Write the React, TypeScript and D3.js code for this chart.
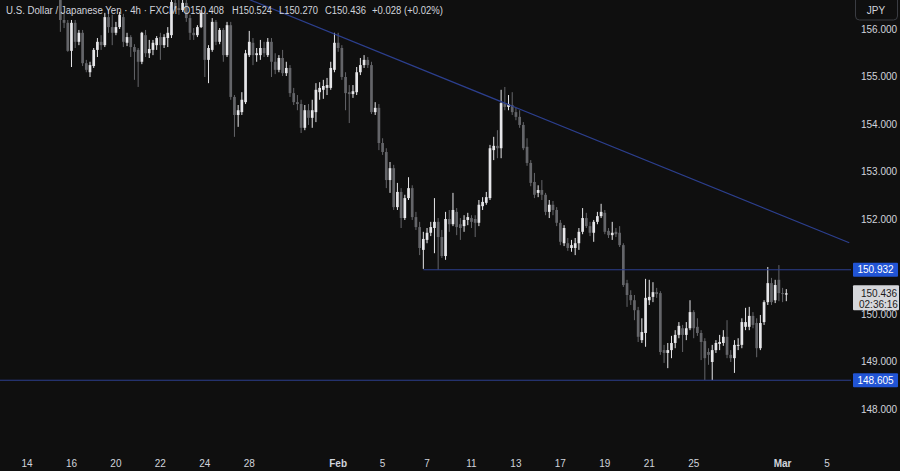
import React from 'react';
import * as d3 from 'd3';

// ---- Data (USD/JPY, FXCM, 4h) ----
const originSession = '2025-01-14';
const firstSession = '2025-01-15';
const firstSlot = 3;
const barsPerDay = 6;

const opens = [
  156.61, 156.19, 156.13,
  155.54, 156.13, 155.73, 155.92, 155.28, 155.09,
  155.22, 155.56, 155.73, 155.66, 156.25, 156.04,
  155.92, 156.04, 156.25, 155.71, 155.83, 155.62,
  155.56, 155.31, 155.87, 155.49, 155.56, 155.66,
  155.83, 155.66, 155.81, 155.87, 156.55, 156.44,
  156.40, 156.55, 156.23, 155.92, 155.87, 156.04,
  156.34, 155.35, 155.56, 156.15, 155.73, 155.98,
  155.45, 156.08, 154.57, 154.19, 154.25, 154.46,
  155.45, 155.71, 155.45, 155.45, 155.60, 155.45,
  155.73, 155.31, 155.14, 155.39, 155.07, 155.18,
  154.65, 154.46, 154.42, 153.92, 154.29, 154.13,
  154.25, 154.67, 154.72, 154.76, 154.76, 155.14,
  155.71, 155.60, 154.99, 154.67, 154.63, 154.67,
  155.09, 155.24, 155.35, 155.24, 154.25, 154.34,
  153.60, 153.41, 152.82, 153.07, 152.25, 152.57,
  152.02, 152.44, 152.65, 152.04, 151.83, 151.35,
  151.56, 151.71, 151.81, 151.94, 151.62, 151.22,
  152.00, 151.89, 152.15, 151.89, 151.85, 151.98,
  152.02, 152.00, 151.92, 152.27, 152.34, 152.44,
  153.45, 153.54, 153.49, 154.44, 154.36, 154.40,
  154.25, 154.15, 153.98, 153.52, 153.18, 152.78,
  152.55, 152.61, 152.51, 152.15, 152.30, 152.19,
  151.92, 151.49, 151.49, 151.39, 151.39, 151.49,
  151.73, 152.02, 151.85, 151.71, 151.94, 152.06,
  152.13, 151.75, 151.66, 151.73, 151.71, 151.45,
  150.65, 150.40, 150.29, 150.08, 149.45, 149.60,
  150.29, 150.36, 150.46, 150.44, 149.24, 149.18,
  149.24, 149.39, 149.56, 149.70, 149.56, 149.70,
  150.04, 149.73, 149.60, 149.43, 149.20, 148.99,
  149.24, 149.37, 149.39, 149.52, 149.14, 149.07,
  149.33, 149.35, 149.73, 149.73, 149.96, 149.81,
  149.28, 149.83, 150.25, 150.65, 150.29, 150.72,
  150.44, 150.408,
];
const highs = [
  156.72, 156.36, 156.19,
  156.19, 156.19, 155.98, 155.98, 155.35, 155.31,
  155.60, 155.81, 155.87, 156.34, 156.40, 156.30,
  156.15, 156.36, 156.32, 155.92, 155.87, 155.68,
  155.60, 155.94, 155.98, 155.77, 155.77, 155.85,
  155.92, 155.89, 156.04, 156.67, 156.72, 156.61,
  156.69, 156.61, 156.30, 156.02, 156.08, 156.40,
  156.38, 155.66, 156.23, 156.19, 156.02, 156.02,
  156.15, 156.15, 154.61, 154.40, 154.67, 155.56,
  155.96, 155.81, 155.60, 155.77, 155.73, 155.81,
  155.81, 155.49, 155.45, 155.56, 155.31, 155.24,
  154.76, 154.61, 154.51, 154.40, 154.42, 154.51,
  154.86, 154.88, 154.93, 154.97, 155.31, 155.92,
  155.92, 155.66, 155.09, 154.82, 154.82, 155.20,
  155.39, 155.45, 155.41, 155.31, 154.46, 154.42,
  153.70, 153.49, 153.20, 153.14, 152.76, 152.65,
  152.51, 152.88, 152.71, 152.15, 151.94, 151.73,
  151.81, 151.94, 152.44, 152.02, 151.77, 152.15,
  152.19, 152.55, 152.23, 152.02, 152.08, 152.13,
  152.08, 152.08, 152.40, 152.46, 152.57, 153.56,
  153.73, 153.87, 154.72, 154.78, 154.61, 154.67,
  154.34, 154.29, 154.04, 153.70, 153.24, 152.97,
  152.71, 152.82, 152.55, 152.40, 152.38, 152.25,
  151.98, 151.87, 151.60, 151.56, 151.60, 151.81,
  152.23, 152.13, 151.94, 151.98, 152.15, 152.32,
  152.19, 151.81, 151.94, 151.81, 151.85, 151.49,
  150.72, 150.50, 150.40, 150.15, 149.91, 150.74,
  150.72, 150.67, 150.55, 150.48, 149.35, 149.39,
  149.54, 149.66, 149.83, 149.77, 149.83, 150.29,
  150.08, 149.91, 149.66, 149.49, 149.28, 149.35,
  149.45, 149.56, 149.66, 149.87, 149.24, 149.45,
  149.49, 149.91, 150.13, 150.15, 150.04, 149.91,
  149.98, 150.29, 150.99, 150.76, 150.72, 151.03,
  150.55, 150.524,
];
const lows = [
  155.94, 156.02, 155.52,
  155.20, 155.60, 155.66, 155.22, 155.09, 154.99,
  155.18, 155.41, 155.56, 155.62, 155.92, 155.66,
  155.87, 156.00, 155.62, 155.64, 155.41, 154.93,
  154.78, 155.26, 155.41, 155.39, 155.45, 155.56,
  155.35, 155.60, 155.62, 155.81, 156.36, 156.30,
  156.36, 156.15, 155.77, 155.77, 155.83, 156.02,
  154.99, 154.86, 155.52, 155.66, 155.68, 155.31,
  155.41, 154.51, 153.73, 153.94, 154.19, 154.42,
  155.41, 155.24, 155.31, 155.35, 155.41, 155.41,
  154.99, 155.05, 155.09, 155.01, 155.01, 154.57,
  154.40, 154.29, 153.81, 153.87, 153.98, 153.92,
  154.04, 154.51, 154.53, 154.61, 154.72, 155.09,
  155.52, 154.93, 154.29, 154.02, 154.55, 154.61,
  155.03, 155.18, 155.18, 154.21, 154.19, 153.45,
  153.35, 152.65, 152.55, 152.19, 152.19, 151.81,
  151.98, 152.40, 151.98, 151.77, 151.24, 150.95,
  151.49, 151.64, 151.28, 150.93, 151.18, 151.14,
  151.73, 151.85, 151.66, 151.56, 151.73, 151.87,
  151.81, 151.62, 151.85, 152.19, 152.30, 152.40,
  153.24, 153.28, 153.28, 154.29, 154.29, 154.19,
  154.08, 153.92, 153.45, 153.12, 152.69, 152.44,
  152.46, 152.40, 152.08, 152.02, 152.08, 151.85,
  151.45, 151.43, 151.33, 151.31, 151.24, 151.35,
  151.68, 151.81, 151.64, 151.52, 151.89, 152.02,
  151.68, 151.60, 151.56, 151.62, 151.41, 150.57,
  150.15, 150.19, 149.87, 149.41, 149.39, 149.31,
  150.19, 150.25, 150.34, 149.14, 148.97, 148.86,
  149.07, 149.28, 149.49, 149.20, 149.45, 149.66,
  149.49, 149.54, 149.03, 148.61, 148.93, 148.61,
  149.18, 149.24, 149.33, 149.07, 148.99, 148.76,
  149.24, 149.28, 149.66, 149.66, 149.70, 149.09,
  149.24, 149.77, 150.19, 150.19, 150.23, 150.27,
  150.25, 150.270,
];
const closes = [
  156.19, 156.13, 155.54,
  156.13, 155.73, 155.92, 155.28, 155.14, 155.24,
  155.56, 155.73, 155.66, 156.25, 156.04, 155.92,
  156.04, 156.30, 155.73, 155.83, 155.62, 155.52,
  155.31, 155.92, 155.49, 155.58, 155.71, 155.81,
  155.66, 155.83, 155.92, 156.57, 156.44, 156.40,
  156.55, 156.23, 155.92, 155.87, 156.04, 156.34,
  155.35, 155.60, 156.15, 155.73, 155.98, 155.45,
  156.08, 154.57, 154.19, 154.29, 154.51, 155.49,
  155.73, 155.45, 155.49, 155.60, 155.49, 155.73,
  155.31, 155.14, 155.39, 155.07, 155.18, 154.65,
  154.46, 154.42, 153.92, 154.29, 154.13, 154.29,
  154.72, 154.76, 154.80, 154.82, 155.18, 155.71,
  155.60, 154.99, 154.65, 154.63, 154.69, 155.09,
  155.24, 155.35, 155.24, 154.25, 154.34, 153.60,
  153.41, 152.82, 153.07, 152.25, 152.57, 152.02,
  152.44, 152.65, 152.04, 151.83, 151.39, 151.58,
  151.71, 151.83, 151.94, 151.62, 151.22, 152.00,
  151.89, 152.19, 151.83, 151.81, 151.98, 152.04,
  151.94, 151.92, 152.30, 152.36, 152.46, 153.49,
  153.54, 153.49, 154.44, 154.36, 154.42, 154.25,
  154.15, 153.98, 153.49, 153.18, 152.76, 152.51,
  152.61, 152.51, 152.15, 152.30, 152.19, 151.92,
  151.52, 151.81, 151.39, 151.45, 151.49, 151.73,
  152.02, 151.85, 151.71, 151.94, 152.06, 152.15,
  151.73, 151.66, 151.71, 151.68, 151.45, 150.61,
  150.40, 150.29, 150.08, 149.52, 149.62, 150.34,
  150.36, 150.46, 150.42, 149.20, 149.18, 149.24,
  149.39, 149.56, 149.75, 149.56, 149.70, 150.04,
  149.70, 149.60, 149.41, 149.07, 149.14, 149.24,
  149.39, 149.41, 149.52, 149.14, 149.07, 149.35,
  149.35, 149.83, 149.83, 149.96, 149.77, 149.28,
  149.81, 150.25, 150.65, 150.25, 150.61, 150.44,
  150.42, 150.436,
];

const timeTickDates = [
  '2025-01-14', '2025-01-16', '2025-01-20', '2025-01-22', '2025-01-24', '2025-01-28',
  '2025-02-03', '2025-02-05', '2025-02-07', '2025-02-11', '2025-02-13', '2025-02-17',
  '2025-02-19', '2025-02-21', '2025-02-25', '2025-03-03', '2025-03-05',
];
const timeTickLabels = ['14', '16', '20', '22', '24', '28', 'Feb', '5', '7', '11', '13', '17', '19', '21', '25', 'Mar', '5'];
const monthLabels = ['Feb', 'Mar'];

const priceTicks = [148, 149, 150, 152, 153, 154, 155, 156];

const supportLevel = 148.605;
const resistanceLevel = 150.932;
const resistanceStartDate = '2025-02-06';
const resistanceStartSlot = 5;

const trendStart = { date: '2025-01-28', slot: 0, price: 156.62 };
const trendEnd = { date: '2025-03-06', slot: 0, price: 151.5 };

const titleParts = [
  'U.S. Dollar / Japanese Yen · 4h · FXCM',
  'O150.408',
  'H150.524',
  'L150.270',
  'C150.436',
  '+0.028 (+0.02%)',
];
const lastPrice = 150.436;
const countdown = '02:36:16';
const currency = 'JPY';

function tradingDayOffset(from: string, to: string): number {
  const a = new Date(from + 'T00:00:00Z');
  const b = new Date(to + 'T00:00:00Z');
  const sign = b.getTime() >= a.getTime() ? 1 : -1;
  const d = new Date(a);
  let n = 0;
  while (d.getTime() !== b.getTime()) {
    d.setUTCDate(d.getUTCDate() + sign);
    const w = d.getUTCDay();
    if (w !== 0 && w !== 6) n += sign;
  }
  return n;
}

const barOf = (date: string, slot: number) => tradingDayOffset(originSession, date) * barsPerDay + slot;

export default function App() {
  const W = 900;
  const H = 471;
  const plotRight = 851;
  const x = d3.scaleLinear().domain([-7.3, 222.2]).range([0, 850]);
  const y = d3.scaleLinear().domain([148, 156]).range([409, 29]);

  const firstBar = barOf(firstSession, firstSlot);
  const bodyW = 2.7;
  const upColor = '#e6e6e9';
  const downColor = '#646569';
  const lineColor = '#2c3f8e';
  const labelBlue = '#2154d4';
  const textColor = '#d1d4dc';
  const font = "'Liberation Sans', Arial, sans-serif";

  const candles = opens.map((o, k) => {
    const c = closes[k];
    const bar = firstBar + k;
    const cx = x(bar);
    const up = c >= o;
    const col = up ? upColor : downColor;
    const top = y(Math.max(o, c));
    const bot = y(Math.min(o, c));
    return (
      <g key={k}>
        <rect x={cx - 0.5} y={y(highs[k])} width={1} height={Math.max(1, y(lows[k]) - y(highs[k]))} fill={col} />
        <rect x={cx - bodyW / 2} y={top} width={bodyW} height={Math.max(1, bot - top)} fill={col} />
      </g>
    );
  });

  const tStartX = x(barOf(trendStart.date, trendStart.slot));
  const tEndX = x(barOf(trendEnd.date, trendEnd.slot));
  const trendLine = d3.line<[number, number]>()([
    [tStartX, y(trendStart.price)],
    [tEndX, y(trendEnd.price)],
  ]);

  const resStartX = x(barOf(resistanceStartDate, resistanceStartSlot));
  const titleX = [6, 183, 232, 279, 325, 372];
  const titleW = [171, 41, 40, 39, 41, 71];

  return (
    <svg width={W} height={H} style={{ position: 'absolute', left: 0, top: 0, background: '#0f0f0f' }} fontFamily={font}>
      <rect x={0} y={0} width={W} height={H} fill="#0f0f0f" />
      <defs>
        <clipPath id="plot">
          <rect x={0} y={0} width={plotRight} height={448} />
        </clipPath>
      </defs>
      <g clipPath="url(#plot)">
        {candles}
        <path d={trendLine || ''} stroke={lineColor} strokeWidth={1.2} fill="none" />
        <line x1={resStartX} x2={plotRight} y1={y(resistanceLevel)} y2={y(resistanceLevel)} stroke={lineColor} strokeWidth={1.2} />
        <line x1={0} x2={plotRight} y1={y(supportLevel)} y2={y(supportLevel)} stroke={lineColor} strokeWidth={1.2} />
      </g>

      {/* title */}
      <g fill={textColor} fontSize={10}>
        {titleParts.map((t, i) => (
          <text key={i} x={titleX[i]} y={13.5} textLength={titleW[i]} lengthAdjust="spacingAndGlyphs">{t}</text>
        ))}
      </g>

      {/* price axis */}
      <g fill={textColor} fontSize={10}>
        {priceTicks.map((p) => (
          <text key={p} x={861} y={y(p)} dominantBaseline="central">{d3.format('.3f')(p)}</text>
        ))}
      </g>

      {/* level labels */}
      {[resistanceLevel, supportLevel].map((lv) => (
        <g key={lv}>
          <rect x={853} y={y(lv) - 7} width={45} height={14} fill={labelBlue} rx={1} />
          <text x={875.5} y={y(lv)} fill="#ffffff" fontSize={10} textAnchor="middle" dominantBaseline="central">{d3.format('.3f')(lv)}</text>
        </g>
      ))}

      {/* last price */}
      <g>
        <rect x={853} y={y(lastPrice) - 8} width={46} height={25} fill="#d6d7db" rx={1} />
        <text x={861} y={y(lastPrice) + 0.5} fill="#1a1a1a" fontSize={10} dominantBaseline="central">{d3.format('.3f')(lastPrice)}</text>
        <text x={859} y={y(lastPrice) + 11.5} fill="#1a1a1a" fontSize={10} dominantBaseline="central">{countdown}</text>
      </g>

      {/* currency box */}
      <rect x={855.5} y={-5} width={42} height={25} rx={4} fill="none" stroke="#3a3c42" />
      <text x={876} y={10} fill={textColor} fontSize={10} textAnchor="middle" dominantBaseline="central">{currency}</text>

      {/* time axis */}
      <g fontSize={10} fill={textColor}>
        {timeTickDates.map((d, i) => (
          <text
            key={d}
            x={x(barOf(d, 0))}
            y={463}
            textAnchor="middle"
            dominantBaseline="central"
            fontWeight={monthLabels.includes(timeTickLabels[i]) ? 'bold' : 'normal'}
          >
            {timeTickLabels[i]}
          </text>
        ))}
      </g>
    </svg>
  );
}
